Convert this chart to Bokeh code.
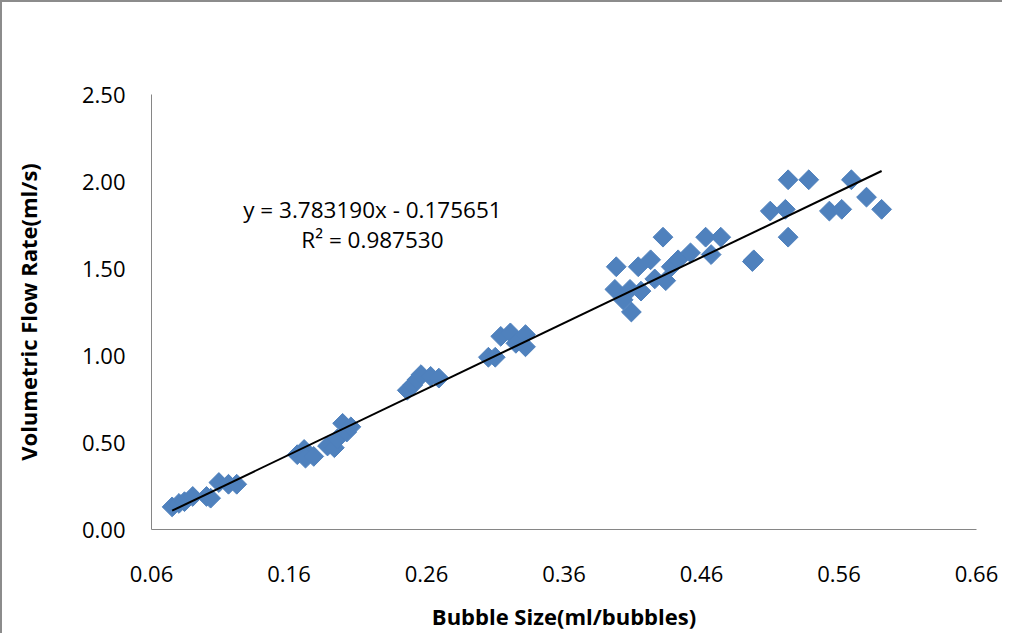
import numpy as np
from bokeh.plotting import figure
from bokeh.models import ColumnDataSource, Label, FixedTicker, CustomJSTickFormatter, Range1d
from bokeh.embed import file_html
from bokeh.resources import INLINE

bubble_size = [0.075, 0.080, 0.084, 0.090, 0.100, 0.103, 0.109, 0.116, 0.122,
               0.166, 0.171, 0.172, 0.178, 0.188, 0.193, 0.195, 0.199, 0.202, 0.205,
               0.246, 0.250, 0.253, 0.256, 0.263, 0.269,
               0.305, 0.310, 0.314, 0.321, 0.325, 0.332, 0.332,
               0.398, 0.414, 0.423, 0.432, 0.397, 0.408, 0.403, 0.409, 0.416, 0.426,
               0.434, 0.438, 0.443, 0.452, 0.463, 0.467, 0.474, 0.497,
               0.498, 0.510, 0.521, 0.523, 0.523, 0.538, 0.553, 0.562, 0.569, 0.580, 0.591]
flow_rate = [0.13, 0.15, 0.16, 0.19, 0.19, 0.18, 0.27, 0.26, 0.26,
             0.43, 0.46, 0.41, 0.42, 0.48, 0.47, 0.52, 0.61, 0.56, 0.59,
             0.80, 0.83, 0.86, 0.89, 0.88, 0.87,
             0.99, 0.99, 1.11, 1.13, 1.07, 1.12, 1.05,
             1.51, 1.51, 1.55, 1.68, 1.38, 1.38, 1.32, 1.25, 1.37, 1.44,
             1.43, 1.51, 1.55, 1.59, 1.68, 1.58, 1.68, 1.54,
             1.55, 1.83, 1.84, 2.01, 1.68, 2.01, 1.83, 1.84, 2.01, 1.91, 1.84]

x_ticks = [0.06, 0.16, 0.26, 0.36, 0.46, 0.56, 0.66]
y_ticks = [0.0, 0.5, 1.0, 1.5, 2.0, 2.5]

slope, intercept = 3.783190, -0.175651
eq_text = "y = 3.783190x - 0.175651"
r2_text = "R\u00b2 = 0.987530"

font = "Open Sans"
axis_color = "#868686"

p = figure(width=1002, height=633, output_backend="svg", toolbar_location=None,
           x_range=Range1d(0.06, 0.66), y_range=Range1d(0, 2.5),
           min_border_left=149, min_border_top=92, min_border_right=28, min_border_bottom=106)
p.styles = {"border-left": "2px solid #8c8c8c", "border-top": "2px solid #8c8c8c"}
p.outline_line_color = None
p.grid.visible = False

src = ColumnDataSource(dict(x=bubble_size, y=flow_rate))
p.scatter("x", "y", source=src, marker="square", size=14, angle=np.pi / 4,
          fill_color="#4F81BD", line_color="#4F81BD")

xs = np.array([min(bubble_size), max(bubble_size)])
p.line(xs, slope * xs + intercept, line_color="black", line_width=2)

p.xaxis.ticker = FixedTicker(ticks=x_ticks)
p.yaxis.ticker = FixedTicker(ticks=y_ticks)
p.xaxis.formatter = CustomJSTickFormatter(code="return tick.toFixed(2);")
p.yaxis.formatter = CustomJSTickFormatter(code="return tick.toFixed(2);")

for ax in (p.xaxis[0], p.yaxis[0]):
    ax.axis_line_color = axis_color
    ax.axis_line_width = 1
    ax.major_tick_line_color = None
    ax.minor_tick_line_color = None
    ax.major_label_text_font = font
    ax.major_label_text_font_size = "22px"
    ax.major_label_text_color = "black"
    ax.axis_label_text_font = font
    ax.axis_label_text_font_size = "22px"
    ax.axis_label_text_font_style = "bold"
    ax.axis_label_text_color = "black"

p.xaxis.axis_label = "Bubble Size(ml/bubbles)"
p.yaxis.axis_label = "Volumetric Flow Rate(ml/s)"
p.xaxis.major_label_standoff = 30
p.yaxis.major_label_standoff = 20
p.xaxis.axis_label_standoff = 16
p.yaxis.axis_label_standoff = 36

p.add_layout(Label(x=0.2207, y=1.84, text=eq_text, text_font=font, text_font_size="22.5px",
                   text_baseline="middle", text_align="center", text_color="black"))
p.add_layout(Label(x=0.2207, y=1.665, text=r2_text, text_font=font, text_font_size="22.5px",
                   text_baseline="middle", text_align="center", text_color="black"))

open("out.html", "w").write(file_html(p, INLINE))
